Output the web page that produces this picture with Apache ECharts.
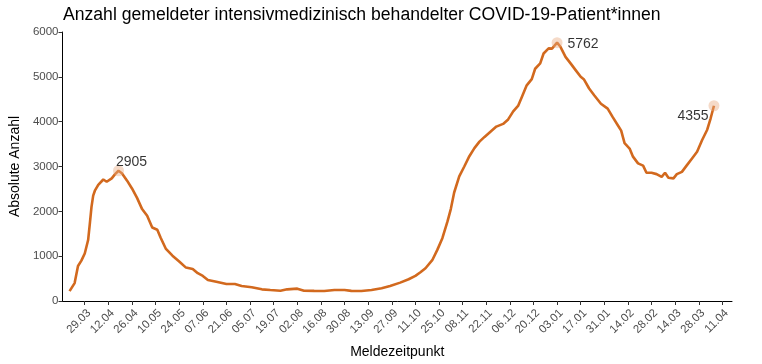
<!DOCTYPE html>
<html>
<head>
<meta charset="utf-8">
<script src="https://cdn.jsdelivr.net/npm/echarts@6/dist/echarts.min.js"></script>
<style>
html,body{margin:0;padding:0;background:#fff;}
#chart{width:762px;height:364px;}
</style>
</head>
<body>
<div id="chart"></div>
<script>
// ---- data ----
const titleText = 'Anzahl gemeldeter intensivmedizinisch behandelter COVID-19-Patient*innen';
const dates = [
'2020-03-20','2020-03-23','2020-03-25','2020-03-27','2020-03-29','2020-03-31','2020-04-01','2020-04-02','2020-04-03','2020-04-04',
'2020-04-06','2020-04-09','2020-04-11','2020-04-14','2020-04-16','2020-04-18','2020-04-20','2020-04-23','2020-04-26','2020-04-29',
'2020-05-02','2020-05-05','2020-05-08','2020-05-11','2020-05-13','2020-05-16','2020-05-20','2020-05-24','2020-05-28','2020-06-01',
'2020-06-04','2020-06-07','2020-06-10','2020-06-15','2020-06-21','2020-06-26','2020-06-30','2020-07-06','2020-07-12','2020-07-17',
'2020-07-23','2020-07-27','2020-08-02','2020-08-06','2020-08-12','2020-08-18','2020-08-24','2020-08-30','2020-09-03','2020-09-09',
'2020-09-15','2020-09-21','2020-09-26','2020-10-02','2020-10-07','2020-10-11','2020-10-14','2020-10-17','2020-10-21','2020-10-24',
'2020-10-27','2020-10-30','2020-11-01','2020-11-03','2020-11-06','2020-11-09','2020-11-12','2020-11-15','2020-11-18','2020-11-21',
'2020-11-24','2020-11-28','2020-12-02','2020-12-05','2020-12-08','2020-12-11','2020-12-13','2020-12-16','2020-12-19','2020-12-21',
'2020-12-24','2020-12-26','2020-12-29','2020-12-31','2021-01-03','2021-01-05','2021-01-08','2021-01-11','2021-01-14','2021-01-17',
'2021-01-19','2021-01-22','2021-01-25','2021-01-29','2021-02-02','2021-02-05','2021-02-08','2021-02-10','2021-02-12','2021-02-15',
'2021-02-17','2021-02-20','2021-02-23','2021-02-25','2021-02-28','2021-03-03','2021-03-06','2021-03-08','2021-03-10','2021-03-13',
'2021-03-15','2021-03-18','2021-03-21','2021-03-24','2021-03-27','2021-03-30','2021-04-02','2021-04-04','2021-04-06'
];
const values = [
220,400,780,900,1060,1360,1720,2100,2350,2460,
2590,2710,2660,2735,2830,2905,2850,2690,2510,2300,
2050,1900,1640,1590,1410,1170,1010,880,745,715,
620,560,470,430,380,380,335,305,260,245,
230,260,275,230,225,222,245,245,225,222,
245,285,335,410,485,560,640,730,910,1140,
1400,1770,2050,2420,2780,3000,3230,3410,3555,3660,
3760,3890,3950,4050,4230,4360,4540,4810,4950,5180,
5300,5520,5635,5630,5762,5670,5445,5300,5150,5000,
4940,4740,4590,4400,4290,4100,3920,3800,3520,3400,
3220,3070,3020,2860,2860,2830,2770,2860,2750,2735,
2830,2880,3030,3180,3330,3590,3820,4070,4355
];
const highlightDates = ['2020-04-18','2021-01-03','2021-04-06'];
const highlightValues = [2905, 5762, 4355];
const tickLabels = ['29.03','12.04','26.04','10.05','24.05','07.06','21.06','05.07','19.07','02.08','16.08','30.08','13.09','27.09',
'11.10','25.10','08.11','22.11','06.12','20.12','03.01','17.01','31.01','14.02','28.02','14.03','28.03','11.04'];
const tickDates = ['2020-03-29','2020-04-12','2020-04-26','2020-05-10','2020-05-24','2020-06-07','2020-06-21','2020-07-05','2020-07-19','2020-08-02','2020-08-16','2020-08-30','2020-09-13','2020-09-27',
'2020-10-11','2020-10-25','2020-11-08','2020-11-22','2020-12-06','2020-12-20','2021-01-03','2021-01-17','2021-01-31','2021-02-14','2021-02-28','2021-03-14','2021-03-28','2021-04-11'];

// ---- helpers ----
const day0 = Date.UTC(2020,2,29);
function toDay(s){ const p = s.split('-').map(Number); return Math.round((Date.UTC(p[0],p[1]-1,p[2]) - day0)/86400000); }
const tickDays = tickDates.map(toDay);
const lineData = dates.map((d,i)=>[toDay(d), values[i]]);
const labelOffsets = [[13,-9],[26,1],[-21,10]];
const hlData = highlightDates.map((d,i)=>({
  value:[toDay(d), highlightValues[i]],
  label:{show:true, position:'inside', offset:labelOffsets[i], formatter:String(highlightValues[i]),
         color:'#000', textBorderWidth:0, fontSize:14, fontFamily:'Liberation Sans'}
}));

const chart = echarts.init(document.getElementById('chart'), null, {renderer:'canvas'});
chart.setOption({
  backgroundColor:'#ffffff',
  animation:false,
  title:{text:titleText, left:58, top:1, textStyle:{fontFamily:'Liberation Sans', fontSize:17.6, fontWeight:'normal', color:'#000'}},
  grid:{left:61, right:30, top:32, bottom:63},
  xAxis:{
    type:'value', min:-13.2, max:383.7,
    name:'Meldezeitpunkt', nameLocation:'middle', nameGap:44,
    nameTextStyle:{fontFamily:'Liberation Sans', fontSize:14, color:'#000'},
    axisLine:{show:true, onZero:false, lineStyle:{color:'#000', width:1}},
    axisTick:{show:true, length:4, customValues:tickDays, lineStyle:{color:'#333'}},
    axisLabel:{show:true, customValues:tickDays, rotate:45, margin:6, verticalAlign:'top', color:'#4d4d4d', fontSize:11.5, fontFamily:'Liberation Sans',
      formatter:(v)=>{ const i = tickDays.indexOf(v); return i>=0 ? tickLabels[i] : ''; }},
    splitLine:{show:false}
  },
  yAxis:{
    type:'value', min:0, max:6000, interval:1000,
    name:'Absolute Anzahl', nameLocation:'middle', nameGap:37,
    nameTextStyle:{fontFamily:'Liberation Sans', fontSize:14, color:'#000'},
    axisLine:{show:true, onZero:false, lineStyle:{color:'#000', width:1}},
    axisTick:{show:true, length:4, lineStyle:{color:'#333'}},
    axisLabel:{color:'#4d4d4d', fontSize:11.5, fontFamily:'Liberation Sans', margin:4, formatter:(v)=>String(v)},
    splitLine:{show:false}
  },
  series:[
    {type:'line', data:lineData, showSymbol:false, symbol:'none', smooth:false,
     lineStyle:{color:'#d2691e', width:2.6}, z:2},
    {type:'scatter', data:hlData, symbolSize:11, itemStyle:{color:'rgba(232,170,130,0.55)'}, z:3}
  ]
});
</script>
</body>
</html>
